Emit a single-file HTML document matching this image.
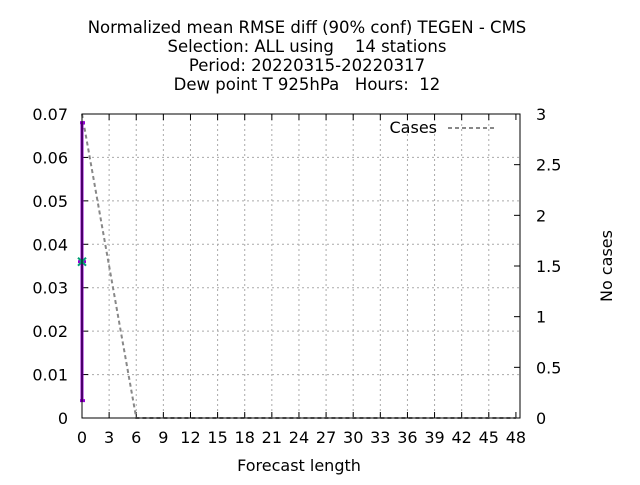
<!DOCTYPE html>
<html><head><meta charset="utf-8"><style>
body{margin:0;background:#fff}
svg{font-family:"DejaVu Sans","Liberation Sans",sans-serif}
text{white-space:pre}
</style></head><body>
<svg width="640" height="480" xmlns="http://www.w3.org/2000/svg">
<g font-size="16.5" text-anchor="middle" fill="#000">
<text x="307" y="33" xml:space="preserve">Normalized mean RMSE diff (90% conf) TEGEN - CMS</text>
<text x="307" y="52" xml:space="preserve">Selection: ALL using    14 stations</text>
<text x="307" y="71" xml:space="preserve">Period: 20220315-20220317</text>
<text x="307" y="90" xml:space="preserve">Dew point T 925hPa   Hours:  12</text>
</g>
<g id="grid"></g>
<g id="axes"></g>
<g id="series"></g>
<rect x="82" y="114" width="438" height="304" fill="none" stroke="#000" stroke-width="1"/>
<text x="299" y="471" font-size="16" text-anchor="middle">Forecast length</text>
<text transform="translate(612,266) rotate(-90)" font-size="16" text-anchor="middle">No cases</text>
<g>
<text x="437" y="133" font-size="16" text-anchor="end">Cases</text>
<line x1="448" y1="128" x2="494" y2="128" stroke="#888" stroke-width="2" stroke-dasharray="4,3"/>
</g>
</svg>
<script>
const xTicks=[0,3,6,9,12,15,18,21,24,27,30,33,36,39,42,45,48];
const yTicks=[0,0.01,0.02,0.03,0.04,0.05,0.06,0.07];
const yTickLabels=["0","0.01","0.02","0.03","0.04","0.05","0.06","0.07"];
const y2Ticks=[0,0.5,1,1.5,2,2.5,3];
const y2TickLabels=["0","0.5","1","1.5","2","2.5","3"];
const caseLeads=[0,6,12,18,24,30,36,42,48];
const caseValues=[3,0,0,0,0,0,0,0,0];
const errLeads=[0];
const errMean=[0.036];
const errLow=[0.004];
const errHigh=[0.068];
const NS="http://www.w3.org/2000/svg";
const X=v=>82+v*9.04;
const Y=v=>418-v/0.07*304;
const Y2=v=>418-v/3*304;
function mk(t,a,p){const e=document.createElementNS(NS,t);for(const k in a)e.setAttribute(k,a[k]);p.appendChild(e);return e;}
const g=document.getElementById('grid'),ax=document.getElementById('axes'),s=document.getElementById('series');
xTicks.forEach(v=>{
 if(v>0&&v<48){const l=mk('line',{x1:X(v),x2:X(v),y1:114,y2:418,stroke:'#aaa','stroke-dasharray':'2,3'},g);
 }
 mk('line',{x1:X(v),x2:X(v),y1:418,y2:412,stroke:'#000'},ax);
 mk('line',{x1:X(v),x2:X(v),y1:114,y2:120,stroke:'#000'},ax);
 const t=mk('text',{x:X(v),y:443,'font-size':16,'text-anchor':'middle'},ax);t.textContent=v;
 
});
yTicks.forEach((v,i)=>{
 if(v>0&&v<0.07){const l=mk('line',{x1:82,x2:520,y1:Y(v),y2:Y(v),stroke:'#aaa','stroke-dasharray':'2,3'},g);
 }
 mk('line',{x1:82,x2:88,y1:Y(v),y2:Y(v),stroke:'#000'},ax);
 const t=mk('text',{x:68,y:Y(v)+6,'font-size':16,'text-anchor':'end'},ax);t.textContent=yTickLabels[i];
 
});
y2Ticks.forEach((v,i)=>{
 mk('line',{x1:514,x2:520,y1:Y2(v),y2:Y2(v),stroke:'#000'},ax);
 const t=mk('text',{x:536,y:Y2(v)+6,'font-size':16,'text-anchor':'start'},ax);t.textContent=y2TickLabels[i];
 
});
const pl=mk('polyline',{points:caseLeads.map((l,i)=>X(l)+','+Y2(caseValues[i])).join(' '),fill:'none',stroke:'#888','stroke-width':2,'stroke-dasharray':'4,3'},s);

errLeads.forEach((l,i)=>{
 const x=X(l);
 const b=mk('line',{x1:x,x2:x,y1:Y(errLow[i]),y2:Y(errHigh[i]),stroke:'#9400d3','stroke-width':3},s);
 
 mk('line',{x1:x-2,x2:x+3,y1:Y(errLow[i]),y2:Y(errLow[i]),stroke:'#9400d3','stroke-width':3},s);
 mk('line',{x1:x-2,x2:x+3,y1:Y(errHigh[i]),y2:Y(errHigh[i]),stroke:'#9400d3','stroke-width':3},s);
 const ym=Y(errMean[i]);
 mk('line',{x1:x-4,x2:x+4,y1:ym,y2:ym,stroke:'#9400d3','stroke-width':3},s);
 const m=mk('path',{d:`M${x-4},${ym-4}L${x+4},${ym+4}M${x-4},${ym+4}L${x+4},${ym-4}`,stroke:'#009e73','stroke-width':2},s);
 
});
</script>
</body></html>
